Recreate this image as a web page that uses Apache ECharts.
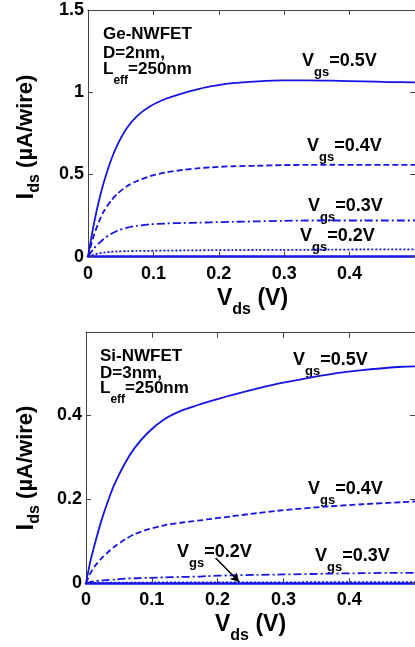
<!DOCTYPE html>
<html>
<head>
<meta charset="utf-8">
<script src="https://cdn.jsdelivr.net/npm/echarts@6/dist/echarts.min.js"></script>
<style>
html,body{margin:0;padding:0;background:#fff;}
#c{width:415px;height:647px;}
</style>
</head>
<body>
<div id="c"></div>
<script>
// ---------- DATA ----------
const xTicksTop = [0, 0.1, 0.2, 0.3, 0.4, 0.5];
const yTicksTop = [0, 0.5, 1, 1.5];
const yTicksBot = [0, 0.2, 0.4];

// Ge-NWFET (D=2nm)
const geVds = [0, 0.009, 0.017, 0.024, 0.035, 0.045, 0.06, 0.075, 0.095, 0.12, 0.146, 0.17, 0.187, 0.221, 0.26, 0.297, 0.335, 0.373, 0.42, 0.46, 0.5];
const geVgs05 = [0, 0.2, 0.345, 0.45, 0.585, 0.68, 0.785, 0.855, 0.915, 0.962, 0.995, 1.02, 1.035, 1.055, 1.066, 1.072, 1.072, 1.07, 1.066, 1.062, 1.06];
const geVgs04 = [0, 0.13, 0.215, 0.275, 0.34, 0.383, 0.43, 0.46, 0.49, 0.513, 0.528, 0.538, 0.543, 0.55, 0.553, 0.557, 0.558, 0.559, 0.558, 0.558, 0.558];
const geVgs03 = [0, 0.05, 0.083, 0.108, 0.138, 0.158, 0.177, 0.188, 0.197, 0.202, 0.205, 0.207, 0.209, 0.212, 0.215, 0.218, 0.22, 0.22, 0.22, 0.22, 0.22];
const geVgs02 = [0, 0.012, 0.02, 0.025, 0.03, 0.032, 0.034, 0.035, 0.036, 0.037, 0.038, 0.039, 0.04, 0.04, 0.041, 0.042, 0.042, 0.043, 0.044, 0.045, 0.045];

// Si-NWFET (D=3nm)
const siVds = [0, 0.006, 0.014, 0.024, 0.034, 0.044, 0.059, 0.074, 0.094, 0.119, 0.144, 0.17, 0.184, 0.22, 0.26, 0.30, 0.37, 0.42, 0.48, 0.5];
const siVgs05 = [0, 0.048, 0.097, 0.152, 0.198, 0.238, 0.285, 0.322, 0.358, 0.39, 0.41, 0.424, 0.431, 0.447, 0.463, 0.477, 0.497, 0.507, 0.515, 0.516];
const siVgs04 = [0, 0.022, 0.042, 0.06, 0.075, 0.088, 0.104, 0.117, 0.128, 0.138, 0.144, 0.149, 0.152, 0.159, 0.167, 0.174, 0.183, 0.188, 0.193, 0.195];
const siVgs03 = [0, 0.003, 0.005, 0.007, 0.008, 0.009, 0.011, 0.012, 0.013, 0.014, 0.015, 0.016, 0.017, 0.019, 0.02, 0.021, 0.023, 0.024, 0.025, 0.025];
const siVgs02 = [0, 0.0005, 0.001, 0.0012, 0.0014, 0.0015, 0.0016, 0.0017, 0.0018, 0.0019, 0.002, 0.002, 0.0021, 0.0022, 0.0023, 0.0024, 0.0025, 0.0026, 0.0027, 0.0027];

// annotation arrow (data coordinates in the Si panel)
const arrowFrom = [0.197, 0.06];
const arrowTo = [0.233, 0.003];

// ---------- STYLE ----------
const BLUE = '#1414e6';
const FONT = '"Liberation Sans", Arial, sans-serif';
const solid = 'solid', dashed = [6, 3], dashdot = [8, 3, 2, 3], dotted = [2, 2];

function pairs(xs, ys) { return xs.map((x, i) => [x, ys[i]]); }

const ctx = document.createElement('canvas').getContext('2d');
function tw(t, size) { ctx.font = 'bold ' + size + 'px ' + FONT; return ctx.measureText(t).width; }

// parts: [text, size, dy]
function textRun(x, y, parts, color) {
  const els = [];
  let cx = x;
  parts.forEach(p => {
    els.push({
      type: 'text', x: cx, y: y + (p[2] || 0), silent: true,
      style: { text: p[0], font: 'bold ' + p[1] + 'px ' + FONT, fill: color || '#000',
               align: 'left', verticalAlign: 'middle', textAlign: 'left', textVerticalAlign: 'middle' }
    });
    cx += tw(p[0], p[1]);
  });
  return els;
}
function runLen(parts) { return parts.reduce((s, p) => s + tw(p[0], p[1]), 0); }

function vgs(x, y, val) {
  return textRun(x, y, [['V', 18], ['gs', 13, 11], ['=' + val + 'V', 18]]);
}

const yTitleParts = [['I', 24], ['ds', 16, 9], [' (\u00b5A/wire)', 22]];
function yTitle(cx, cy) {
  const L = runLen(yTitleParts);
  return { type: 'group', x: cx, y: cy, rotation: Math.PI / 2,
           children: textRun(-L / 2, 0, yTitleParts) };
}

const graphics = [].concat(
  // top panel texts
  textRun(103, 34, [['Ge-NWFET', 17]]),
  textRun(103, 53, [['D=2nm,', 17]]),
  textRun(103, 69, [['L', 17], ['eff', 12, 12], ['=250nm', 17]]),
  vgs(302, 61, '0.5'),
  vgs(307, 146, '0.4'),
  vgs(308, 206.5, '0.3'),
  vgs(300, 236.5, '0.2'),
  textRun(217, 298.5, [['V', 23], ['ds', 16, 11], [' (V)', 23]]),
  [yTitle(26, 137)],
  // bottom panel texts
  textRun(100, 356, [['Si-NWFET', 17]]),
  textRun(100, 373, [['D=3nm,', 17]]),
  textRun(100, 388, [['L', 17], ['eff', 12, 12], ['=250nm', 17]]),
  vgs(293, 360, '0.5'),
  vgs(308, 489, '0.4'),
  vgs(177, 552, '0.2'),
  vgs(315, 556, '0.3'),
  textRun(215, 625, [['V', 23], ['ds', 16, 11], [' (V)', 23]]),
  [yTitle(26, 468)]
);

function xAx(gi, pos, showLabels) {
  return {
    type: 'value', gridIndex: gi, position: pos, min: 0, max: 0.5, interval: 0.1,
    axisLine: { show: true, onZero: false, lineStyle: { color: pos === 'bottom' ? BLUE : '#444', width: pos === 'bottom' ? 2.5 : 1 } },
    axisTick: { show: true, inside: true, length: 5, lineStyle: { color: '#444' } },
    axisLabel: { show: showLabels, showMaxLabel: false, margin: 8, fontSize: 18, fontWeight: 'bold', fontFamily: FONT, color: '#000' },
    splitLine: { show: false }
  };
}
function yAx(gi, pos, max, interval, showLabels) {
  return {
    type: 'value', gridIndex: gi, position: pos, min: 0, max: max, interval: interval,
    axisLine: { show: true, onZero: false, lineStyle: { color: '#444', width: 1 } },
    axisTick: { show: true, inside: true, length: 5, lineStyle: { color: '#444' } },
    axisLabel: { show: showLabels, showMaxLabel: max === 1.5, margin: 4, fontSize: 18, fontWeight: 'bold', fontFamily: FONT, color: '#000' },
    splitLine: { show: false }
  };
}

function line(xi, yi, xs, ys, type) {
  return {
    type: 'line', xAxisIndex: xi, yAxisIndex: yi, data: pairs(xs, ys),
    showSymbol: false, symbol: 'none', smooth: 0.25, silent: true, clip: true,
    lineStyle: { color: BLUE, width: 1.8, type: type }
  };
}

const option = {
  animation: false,
  backgroundColor: '#fff',
  grid: [
    { left: 88, top: 10, right: -1.5, bottom: 390.3 },
    { left: 86, top: 332.7, right: -6, bottom: 63.7 }
  ],
  xAxis: [xAx(0, 'bottom', true), xAx(0, 'top', false), xAx(1, 'bottom', true), xAx(1, 'top', false)],
  yAxis: [yAx(0, 'left', 1.5, 0.5, true), yAx(0, 'right', 1.5, 0.5, false),
          yAx(1, 'left', 0.596, 0.2, true), yAx(1, 'right', 0.596, 0.2, false)],
  series: [
    line(0, 0, geVds, geVgs05, solid),
    line(0, 0, geVds, geVgs04, dashed),
    line(0, 0, geVds, geVgs03, dashdot),
    line(0, 0, geVds, geVgs02, dotted),
    line(2, 2, siVds, siVgs05, solid),
    line(2, 2, siVds, siVgs04, dashed),
    line(2, 2, siVds, siVgs03, dashdot),
    Object.assign(line(2, 2, siVds, siVgs02, dotted), {
      markLine: {
        silent: true, symbol: ['none', 'arrow'], symbolSize: [7, 9], label: { show: false },
        lineStyle: { color: '#000', width: 1.5, type: 'solid' },
        data: [[{ coord: arrowFrom }, { coord: arrowTo }]]
      }
    })
  ],
  graphic: graphics
};

const chart = echarts.init(document.getElementById('c'), null, { renderer: 'canvas' });
chart.setOption(option);
</script>
</body>
</html>
